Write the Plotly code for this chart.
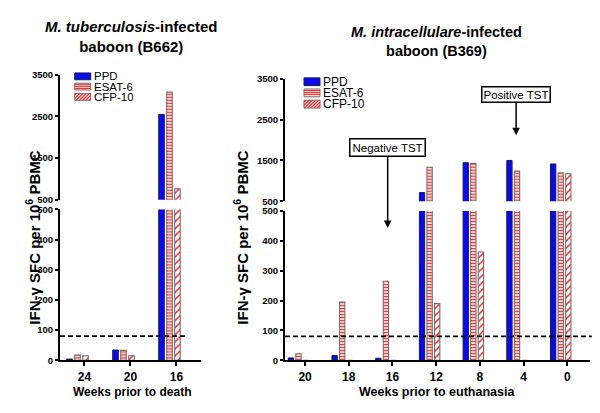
import plotly.graph_objects as go

# ---------------- data ----------------
weeks_tb = ["24", "20", "16"]
ppd_tb = [4, 34, 2545]
esat_tb = [17, 33, 3085]
cfp_tb = [15, 15, 760]

weeks_mi = ["20", "18", "16", "12", "8", "4", "0"]
ppd_mi = [8, 16, 7, 715, 1445, 1500, 1415]
esat_mi = [22, 195, 265, 1335, 1430, 1240, 1200]
cfp_mi = [0, 0, 0, 190, 363, 0, 1175]

series_names = ["PPD", "ESAT-6", "CFP-10"]
threshold = 80
low_ticks = [0, 100, 200, 300, 400, 500]
high_ticks = [500, 1500, 2500, 3500]

# ---------------- style ----------------
FONT = "Liberation Sans"
W, H = 600, 413
BLUE = "#0a0af2"
RED = "#ff2626"

def px(x):
    return x / W

def py(y):
    return 1 - y / H

styles = {
    "PPD": dict(color=BLUE, line=dict(color="#1c1c3c", width=1)),
    "ESAT-6": dict(color="#ffdada", line=dict(color="#6e6e6e", width=1.1),
                   pattern=dict(shape="-", bgcolor="#ffdada", fgcolor=RED,
                                size=3, solidity=0.35, fillmode="replace")),
    "CFP-10": dict(color="white", line=dict(color="#6e6e6e", width=1.1),
                   pattern=dict(shape="/", bgcolor="white", fgcolor=RED,
                                size=5, solidity=0.3, fillmode="replace")),
}

fig = go.Figure()

panels = [
    ("x", ["y", "y2"], weeks_tb, [ppd_tb, esat_tb, cfp_tb]),
    ("x2", ["y3", "y4"], weeks_mi, [ppd_mi, esat_mi, cfp_mi]),
]
for xa, yas, weeks, vals in panels:
    idx = list(range(len(weeks)))
    for ya in yas:
        for name, v in zip(series_names, vals):
            fig.add_trace(go.Bar(x=idx, y=v, name=name, xaxis=xa, yaxis=ya,
                                 marker=styles[name], showlegend=False,
                                 hoverinfo="skip"))

axis_common = dict(showline=True, linewidth=2, linecolor="black", ticks="outside",
                   tickwidth=1.5, tickcolor="black", showgrid=False,
                   zeroline=False, mirror=False)
ytick_font = dict(family=FONT, size=9.5, color="black", weight="bold")
xtick_font = dict(family=FONT, size=12, color="black", weight="bold")

fig.update_layout(
    width=W, height=H, margin=dict(l=0, r=0, t=0, b=0),
    paper_bgcolor="white", plot_bgcolor="rgba(0,0,0,0)",
    barmode="group", bargap=0.48, bargroupgap=0.3,
    font=dict(family=FONT, color="black"),
    xaxis=dict(domain=[px(60), px(201)], range=[-0.38, 2.685], anchor="y", ticklen=4,
               tickmode="array", tickvals=[i + 0.15 for i in range(len(weeks_tb))],
               ticktext=weeks_tb, tickfont=xtick_font, **axis_common),
    yaxis=dict(domain=[py(364), py(209)], range=[0, 500], anchor="x", ticklen=3,
               tickmode="array", tickvals=low_ticks, tickfont=ytick_font, **axis_common),
    yaxis2=dict(domain=[py(199), py(70.7)], range=[500, 3500], anchor="x", ticklen=3,
                tickmode="array", tickvals=high_ticks, tickfont=ytick_font, **axis_common),
    xaxis2=dict(domain=[px(285), px(590)], range=[-0.309, 6.67], anchor="y3", ticklen=4,
                tickmode="array", tickvals=[i + 0.15 for i in range(len(weeks_mi))],
                ticktext=weeks_mi, tickfont=xtick_font, **axis_common),
    yaxis3=dict(domain=[py(364), py(210.7)], range=[0, 500], anchor="x2", ticklen=3,
                tickmode="array", tickvals=low_ticks, tickfont=ytick_font, **axis_common),
    yaxis4=dict(domain=[py(200.7), py(74.7)], range=[500, 3500], anchor="x2", ticklen=3,
                tickmode="array", tickvals=high_ticks, tickfont=ytick_font, **axis_common),
)

shapes = []
annotations = []

# threshold dashed lines
shapes.append(dict(type="line", xref="x domain", yref="y", x0=0, x1=0.908,
                   y0=threshold, y1=threshold,
                   line=dict(color="black", width=1.8, dash="5px,3px")))
shapes.append(dict(type="line", xref="x2 domain", yref="y3", x0=0, x1=1.006,
                   y0=threshold, y1=threshold,
                   line=dict(color="black", width=1.8, dash="5px,3px")))

# titles
annotations.append(dict(text="<b><i>M. tuberculosis</i>-infected<br>baboon (B662)</b>",
                        x=px(131.5), y=py(31), xref="paper", yref="paper",
                        showarrow=False, font=dict(family=FONT, size=15),
                        xanchor="center", yanchor="middle"))
annotations.append(dict(text="<b><i>M. intracellulare</i>-infected<br>baboon (B369)</b>",
                        x=px(436.5), y=py(36), xref="paper", yref="paper",
                        showarrow=False, font=dict(family=FONT, size=14.5),
                        xanchor="center", yanchor="middle"))

ytitle = "<b>IFN-γ SFC per 10<sup>6</sup> PBMC</b>"
for xc in (33, 241):
    annotations.append(dict(text=ytitle, x=px(xc), y=py(238), xref="paper", yref="paper",
                            showarrow=False, textangle=-90,
                            font=dict(family=FONT, size=15),
                            xanchor="center", yanchor="middle"))
annotations.append(dict(text="<b>Weeks prior to death</b>", x=px(131.5), y=py(397),
                        xref="paper", yref="paper", showarrow=False,
                        font=dict(family=FONT, size=12), xanchor="center", yanchor="middle"))
annotations.append(dict(text="<b>Weeks prior to euthanasia</b>", x=px(436.7), y=py(397),
                        xref="paper", yref="paper", showarrow=False,
                        font=dict(family=FONT, size=12.5), xanchor="center", yanchor="middle"))

# TST callouts
annotations.append(dict(text="Negative TST", x=2.04, y=py(228), xref="x2", yref="paper",
                        showarrow=True, ax=0, ay=-80.5, arrowhead=2, arrowsize=1,
                        arrowwidth=1.5, arrowcolor="black",
                        font=dict(family=FONT, size=11.5), bgcolor="white",
                        bordercolor="black", borderwidth=1.5, borderpad=2))
annotations.append(dict(text="Positive TST", x=4.98, y=py(132.7), xref="x2", yref="paper",
                        showarrow=True, ax=0, ay=-40.7, arrowhead=2, arrowsize=1,
                        arrowwidth=1.5, arrowcolor="black",
                        font=dict(family=FONT, size=11.5), bgcolor="white",
                        bordercolor="black", borderwidth=1.5, borderpad=1))


# manual legends
def swatch(x0, y0, w, h, kind):
    x1, y1 = x0 + w, y0 + h
    if kind == "PPD":
        shapes.append(dict(type="rect", xref="paper", yref="paper",
                           x0=px(x0), x1=px(x1), y0=py(y1), y1=py(y0),
                           fillcolor=BLUE, line=dict(color="#1c1c3c", width=1)))
        return
    fill = "#ffdada" if kind == "ESAT-6" else "white"
    shapes.append(dict(type="rect", xref="paper", yref="paper",
                       x0=px(x0), x1=px(x1), y0=py(y1), y1=py(y0),
                       fillcolor=fill, line=dict(width=0)))
    if kind == "ESAT-6":
        yy = y0 + 1.5
        while yy < y1 - 0.5:
            shapes.append(dict(type="line", xref="paper", yref="paper",
                               x0=px(x0), x1=px(x1), y0=py(yy), y1=py(yy),
                               line=dict(color=RED, width=1)))
            yy += 2
    else:
        c = x0 + y0 + 2
        while c < x1 + y1 - 1:
            xa = max(x0, c - y1)
            xb = min(x1, c - y0)
            if xb > xa:
                shapes.append(dict(type="line", xref="paper", yref="paper",
                                   x0=px(xa), x1=px(xb), y0=py(c - xa), y1=py(c - xb),
                                   line=dict(color=RED, width=1.3)))
            c += 3.2
    shapes.append(dict(type="rect", xref="paper", yref="paper",
                       x0=px(x0), x1=px(x1), y0=py(y1), y1=py(y0),
                       line=dict(color="#6e6e6e", width=1)))


def legend(x0, yc_list, w, h, tx, fs):
    for name, yc in zip(series_names, yc_list):
        swatch(x0, yc - h / 2, w, h, name)
        annotations.append(dict(text=name, x=px(tx), y=py(yc), xref="paper", yref="paper",
                                showarrow=False, xanchor="left", yanchor="middle",
                                height=10, valign="middle",
                                font=dict(family=FONT, size=fs)))


legend(74.7, [72.3, 82.8, 93.3], 16, 7, 91.5, 11.5)
legend(304, [77.8, 89.3, 100.8], 16, 8, 320.5, 12)

fig.update_layout(shapes=shapes, annotations=annotations)
fig.write_html("out.html", config={"displayModeBar": False},
               post_script="document.body.style.margin='0';document.body.style.padding='0';")
